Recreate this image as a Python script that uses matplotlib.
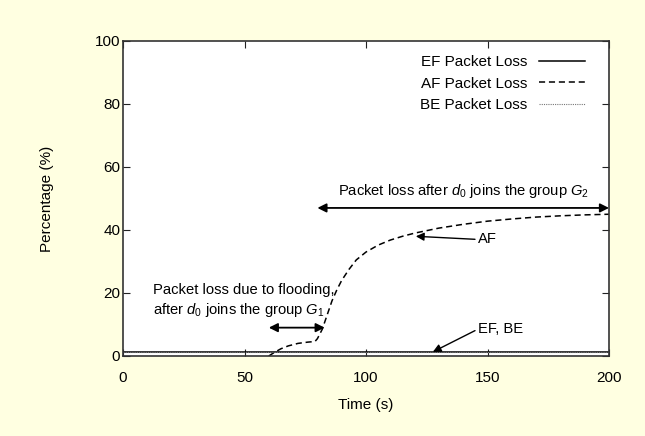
import numpy as np
import matplotlib
matplotlib.use("Agg")
import matplotlib.pyplot as plt

plt.rcParams['font.family'] = ['Liberation Sans', 'DejaVu Sans']
plt.rcParams['mathtext.fontset'] = 'custom'
plt.rcParams['mathtext.it'] = 'Liberation Sans:italic'
plt.rcParams['mathtext.rm'] = 'Liberation Sans'

# values
time_s = [60, 62, 65, 68, 72, 76, 79, 80, 82, 84, 86, 88, 90, 93, 96, 100,
          105, 110, 115, 120, 130, 140, 150, 160, 170, 180, 190, 200]
af_loss = [0.0, 1.0, 2.3, 3.2, 4.0, 4.4, 4.6, 5.5, 8.5, 13.0, 17.5, 21.0,
           24.0, 27.5, 30.5, 33.0, 35.2, 36.8, 38.0, 39.0, 40.6, 41.8, 42.8,
           43.5, 44.1, 44.5, 44.8, 45.0]
ef_time = [0, 200]
ef_loss = [1.2, 1.2]
be_loss = [1.2, 1.2]

fig = plt.figure(figsize=(6.45, 4.36), dpi=100, facecolor='#ffffe1')
ax = fig.add_axes([0.1907, 0.1835, 0.7535, 0.7225])
ax.set_facecolor('white')

ax.plot(ef_time, ef_loss, color='black', lw=1.1, label='EF Packet Loss')
ax.plot(time_s, af_loss, color='black', lw=1.1, ls=(0, (4, 2.5)), label='AF Packet Loss')
ax.plot(ef_time, be_loss, color='#777777', lw=0.8, ls=(0, (1, 1)), label='BE Packet Loss')

ax.set_xlim(0, 200)
ax.set_ylim(0, 100)
ax.set_xticks([0, 50, 100, 150, 200])
ax.set_yticks([0, 20, 40, 60, 80, 100])
ax.tick_params(direction='in', top=True, right=True, labelsize=11, length=5,
               colors='#222222', labelcolor='black')
ax.tick_params(axis='x', pad=11)
ax.tick_params(axis='y', pad=2)
for sp in ax.spines.values():
    sp.set_color('#333333')
    sp.set_linewidth(1.2)
ax.set_xlabel('Time (s)', fontsize=11, labelpad=9)
ax.set_ylabel('Percentage (%)', fontsize=11, labelpad=29)

leg = ax.legend(loc='upper right', bbox_to_anchor=(0.97, 0.985), frameon=False,
                markerfirst=False, fontsize=11, handlelength=3.0,
                labelspacing=0.5, handletextpad=0.8, borderaxespad=0.2)

arrow = dict(arrowstyle='<|-|>', color='black', lw=1.3, mutation_scale=13,
             shrinkA=0, shrinkB=0)
ax.annotate('', xy=(80, 47), xytext=(200, 47), arrowprops=arrow)
ax.text(140, 49.5, r'Packet loss after $d_0$ joins the group $G_2$',
        ha='center', va='bottom', fontsize=10.6)

ax.annotate('', xy=(60, 9), xytext=(83, 9), arrowprops=arrow)
ax.text(12.5, 21, 'Packet loss due to flooding,', ha='left', va='center',
        fontsize=10.6)
ax.text(12.5, 14.5, r'after $d_0$ joins the group $G_1$', ha='left',
        va='center', fontsize=10.6)

one = dict(arrowstyle='-|>', color='black', lw=1.0, mutation_scale=12,
           shrinkA=0, shrinkB=0, relpos=(0, 0.5))
ax.annotate('AF', xy=(120.5, 38), xytext=(146, 37), arrowprops=one,
            ha='left', va='center', fontsize=10.6)
ax.annotate('EF, BE', xy=(127.5, 1.3), xytext=(146, 8.5), arrowprops=one,
            ha='left', va='center', fontsize=10.6)

fig.savefig('out.png', dpi=100, facecolor=fig.get_facecolor())
